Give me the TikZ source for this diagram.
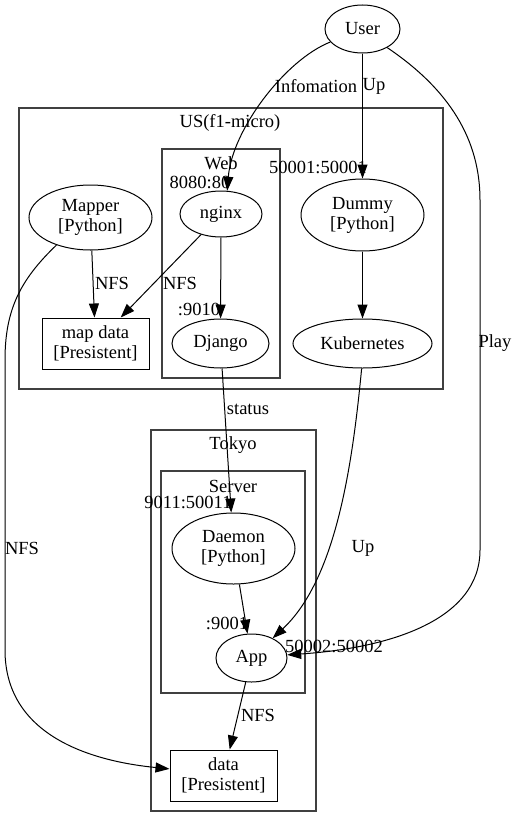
\documentclass[tikz,border=0pt]{standalone}
\usepackage{fontspec}
\setmainfont{Liberation Serif}
\usetikzlibrary{arrows.meta,shapes.geometric}
\begin{document}
\begin{tikzpicture}[x=1pt,y=-1pt,
	every node/.style={font=\fontsize{18.5}{20}\selectfont},
	proc/.style={draw,ellipse,inner sep=0pt,align=center,line width=1pt},
	store/.style={draw,rectangle,inner sep=0pt,align=center,line width=1pt},
	cluster/.style={draw=black!75,line width=1.3pt},
	flow/.style={-{Triangle[length=14pt,width=10pt]},line width=1pt}]
	\useasboundingbox (0,0) rectangle (519,827);
	% clusters
	\draw[cluster] (19,108) rectangle (443,389);
	\node (us) at (230,123) {US(f1-micro)};
	\draw[cluster] (162,149) rectangle (280,378);
	\node (web) at (221,163) {Web};
	\draw[cluster] (151,430) rectangle (316,811);
	\node (tokyo) at (233,445) {Tokyo};
	\draw[cluster] (161,471) rectangle (305,693);
	\node (server) at (233,486) {Server};
	% nodes
	\node[proc,minimum width=75,minimum height=48] (user) at (362.5,29) {User};
	\node[proc,minimum width=123,minimum height=65] (mapper) at (90.5,217.5) {Mapper\\{}[Python]};
	\node[proc,minimum width=82,minimum height=46] (nginx) at (221,214) {nginx};
	\node[proc,minimum width=97,minimum height=49] (django) at (220.5,343.5) {Django};
	\node[proc,minimum width=123,minimum height=72] (dummy) at (362.5,215) {Dummy\\{}[Python]};
	\node[proc,minimum width=139,minimum height=49] (kube) at (362.5,343.5) {Kubernetes};
	\node[store,minimum width=107,minimum height=51] (mapdata) at (95.5,343.5) {map data\\{}[Presistent]};
	\node[proc,minimum width=123,minimum height=71] (daemon) at (233.5,548.5) {Daemon\\{}[Python]};
	\node[proc,minimum width=71,minimum height=48] (app) at (251.5,658) {App};
	\node[store,minimum width=107,minimum height=51] (data) at (223.5,775.5) {data\\{}[Presistent]};
	% edges
	\draw[flow] (user.202) .. controls (285,60) and (232,130) .. (nginx.75);
	\draw[flow] (user) -- (dummy);
	\coordinate (playtop) at (480,200);
	\coordinate (playbot) at (480,550);
	\draw[flow] (user.-37) .. controls (450,90) and (480,140) .. (playtop) -- (playbot) .. controls (480,620) and (390,648) .. (app.5);
	\draw[flow] (mapper) -- (mapdata);
	\draw[flow] (nginx) -- (mapdata);
	\draw[flow] (nginx) -- (django);
	\draw[flow] (dummy) -- (kube);
	\coordinate (nfstop) at (5,360);
	\coordinate (nfsbot) at (5,650);
	\draw[flow] (mapper.219) .. controls (20,280) and (5,310) .. (nfstop) -- (nfsbot) .. controls (5,740) and (100,762) .. (data.173);
	\draw[flow] (django) -- (daemon);
	\draw[flow] (kube.268) .. controls (352,470) and (335,580) .. (app.43);
	\draw[flow] (daemon) -- (app);
	\draw[flow] (app) -- (data);
	% labels
	\node (linfo) at (316,86) {Infomation};
	\node (lup) at (374,86) {Up};
	\node (lp50001) at (318,167) {50001:50001};
	\node (lp8080) at (200,182) {8080:80};
	\node (lnfsa) at (112,283) {NFS};
	\node (lnfsb) at (180,283) {NFS};
	\node (lp9010) at (199,309) {:9010};
	\node (lplay) at (495,343) {Play};
	\node (lstatus) at (248,409) {status};
	\node (lp9011) at (188,502) {9011:50011};
	\node (lup2) at (363,548) {Up};
	\node (lnfsc) at (22,548) {NFS};
	\node (lp9001) at (227,623) {:9001};
	\node (lp50002) at (334,646) {50002:50002};
	\node (lnfsd) at (258,715) {NFS};
\end{tikzpicture}
\end{document}
